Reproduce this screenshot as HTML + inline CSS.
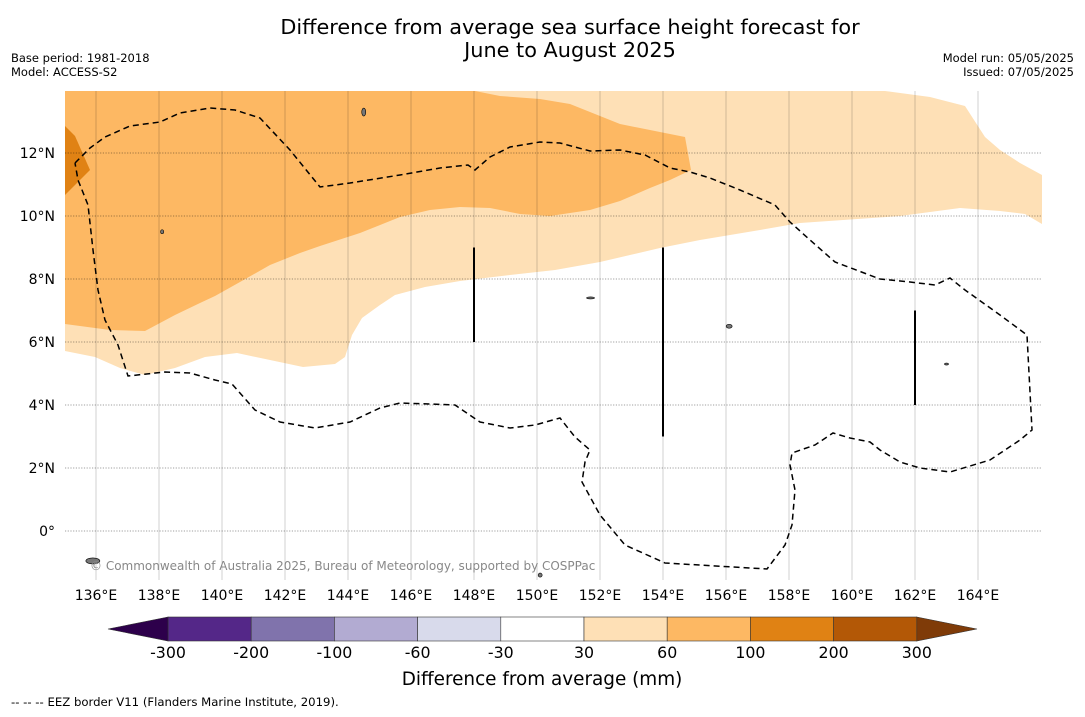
<!DOCTYPE html>
<html><head><meta charset="utf-8"><style>
body{margin:0;background:#fff;width:1085px;height:713px;overflow:hidden;font-family:"DejaVu Sans","Liberation Sans",sans-serif}
</style></head><body>
<svg id="s" width="1085" height="713" xmlns="http://www.w3.org/2000/svg" font-family="DejaVu Sans, Liberation Sans, sans-serif">
<text x="570" y="34" font-size="20.8" text-anchor="middle">Difference from average sea surface height forecast for</text>
<text x="570" y="57" font-size="20.8" text-anchor="middle">June to August 2025</text>
<text x="11" y="62" font-size="11.5">Base period: 1981-2018</text>
<text x="11" y="76" font-size="11.5">Model: ACCESS-S2</text>
<text x="1074" y="62" font-size="11.5" text-anchor="end">Model run: 05/05/2025</text>
<text x="1074" y="76" font-size="11.5" text-anchor="end">Issued: 07/05/2025</text>
<defs><clipPath id="mc"><rect x="65" y="91" width="977" height="489"/></clipPath></defs>
<g id="map" clip-path="url(#mc)"></g>
<g id="ax"></g>
<g id="cb"></g>
<text x="542" y="685" font-size="18.4" text-anchor="middle">Difference from average (mm)</text>
<text x="11" y="706" font-size="11.7">--  --  -- EEZ border V11 (Flanders Marine Institute, 2019).</text>
</svg>
<script>
const NS="http://www.w3.org/2000/svg";
const lonTicks=[136,138,140,142,144,146,148,150,152,154,156,158,160,162,164];
const latTicks=[0,2,4,6,8,10,12];
const cbLevels=[-300,-200,-100,-60,-30,30,60,100,200,300];
const cbColors=["#542788","#8073ac","#b2abd2","#d8daeb","#ffffff","#fee0b6","#fdb863","#e08214","#b35806"];
const cbExtendColors=["#2d004b","#7f3b08"];
const lightPx=[[65,91],[885,91],[930,97],[965,106],[985,137],[1000,150],[1020,163],[1042,175],[1042,224],[1025,214],[1000,211],[960,208],[900,216],[800,223],[760,230],[700,240],[660,248],[600,262],[555,270],[510,275],[460,281],[425,287],[395,295],[380,305],[362,318],[352,335],[345,357],[335,364],[303,367],[270,360],[237,353],[205,357],[175,368],[145,375],[120,368],[95,357],[65,351]];
const orangePx=[[65,91],[475,91],[500,96],[540,99],[570,104],[600,116],[620,124],[685,137],[691,170],[670,180],[650,188],[620,201],[590,210],[550,216],[520,214],[490,208],[460,207],[430,210],[400,217],[360,233],[320,246],[300,253],[270,265],[240,282],[215,296],[200,303],[175,315],[145,331],[110,330],[65,324]];
const darkPx=[[65,126],[75,136],[90,170],[65,195]];
const eezPx=[[75,163],[90,148],[105,137],[130,126],[160,122],[180,113],[210,108],[235,110],[260,118],[290,150],[320,187],[350,183],[400,175],[440,168],[468,165],[475,170],[490,157],[510,147],[540,142],[560,143],[590,151],[620,150],[645,155],[670,168],[690,172],[710,178],[740,190],[775,205],[790,222],[810,240],[835,262],[880,279],[910,282],[935,285],[950,278],[965,290],[1000,315],[1027,335],[1032,430],[1020,440],[990,460],[950,472],[920,468],[900,462],[880,450],[870,442],[850,438],[833,433],[815,445],[792,453],[790,465],[795,490],[792,525],[785,545],[767,569],[665,563],[625,545],[600,515],[582,482],[585,462],[590,450],[575,437],[560,418],[535,425],[510,428],[480,422],[455,405],[430,404],[400,403],[380,408],[350,422],[315,428],[280,422],[255,410],[232,384],[215,380],[190,373],[165,372],[128,376],[118,345],[105,320],[98,290],[93,250],[88,205],[78,180],[75,163]];
const boundaryLines=[[148,9,6],[154,9,3],[162,7,4]];
function x(lon){return 64.5+(lon-135)*31.5;}
function y(lat){return 531-lat*31.5;}
const toLL=p=>p.map(([a,b])=>[135+(a-64.5)/31.5,(531-b)/31.5]);
function el(t,a,p){const e=document.createElementNS(NS,t);for(const k in a)e.setAttribute(k,a[k]);p.appendChild(e);return e;}
const map=document.getElementById('map'),ax=document.getElementById('ax'),cb=document.getElementById('cb');
function poly(ll,fill,name){const e=el('polygon',{points:ll.map(([lo,la])=>x(lo)+','+y(la)).join(' '),fill:fill},map);

}
poly(toLL(lightPx),"#fee0b6","anomaly-30-60");
poly(toLL(orangePx),"#fdb863","anomaly-60-100");
poly(toLL(darkPx),"#e08214","anomaly-100-200");
lonTicks.forEach(l=>{const g=el('line',{x1:x(l),x2:x(l),y1:91,y2:580,stroke:"#000",'stroke-opacity':0.3,'stroke-width':0.6},map);


const t=el('text',{x:x(l),y:600,'font-size':14,'text-anchor':'middle'},ax);t.textContent=l+'°E';

});
latTicks.forEach(l=>{const g=el('line',{x1:65,x2:1042,y1:y(l),y2:y(l),stroke:"#000",'stroke-opacity':0.5,'stroke-width':0.7,'stroke-dasharray':'1.2,1.5'},map);


const t=el('text',{x:55,y:y(l)+5,'font-size':14,'text-anchor':'end'},ax);t.textContent=l===0?'0°':l+'°N';

});
const eez=el('polyline',{points:toLL(eezPx).map(([lo,la])=>x(lo)+','+y(la)).join(' '),fill:'none',stroke:'#000','stroke-width':1.5,'stroke-dasharray':'6,4'},map);


boundaryLines.forEach(([lo,a,b])=>{const e=el('line',{x1:x(lo),x2:x(lo),y1:y(a),y2:y(b),stroke:'#000','stroke-width':2},map);

});
[[135.9,-0.95,7,3],[144.5,13.3,2,4],[156.1,6.5,3,2],[150.1,-1.4,2,2],[151.7,7.4,4,1],[138.1,9.5,1.5,2],[163,5.3,2,1]].forEach(([lo,la,w,h])=>{const e=el('ellipse',{cx:x(lo),cy:y(la),rx:w,ry:h,fill:'#777',stroke:'#000','stroke-width':0.6},map);

});
const cr=el('text',{x:90,y:570,'font-size':12,fill:'#888'},map);cr.textContent='© Commonwealth of Australia 2025, Bureau of Meteorology, supported by COSPPac';


const cx0=168,cw=83.2,cy0=617,ch=24;
cbColors.forEach((c,i)=>{const r=el('rect',{x:cx0+i*cw,y:cy0,width:cw,height:ch,fill:c,stroke:'#333','stroke-width':0.6},cb);

});
const t1=el('polygon',{points:`${cx0},${cy0} 108,${cy0+ch/2} ${cx0},${cy0+ch}`,fill:cbExtendColors[0],stroke:'#333','stroke-width':0.6},cb);


const xe=cx0+cbColors.length*cw;
const t2=el('polygon',{points:`${xe},${cy0} 977,${cy0+ch/2} ${xe},${cy0+ch}`,fill:cbExtendColors[1],stroke:'#333','stroke-width':0.6},cb);


cbLevels.forEach((v,i)=>{const t=el('text',{x:cx0+i*cw,y:658,'font-size':15.8,'text-anchor':'middle'},cb);t.textContent=v;

});
</script>
</body></html>
